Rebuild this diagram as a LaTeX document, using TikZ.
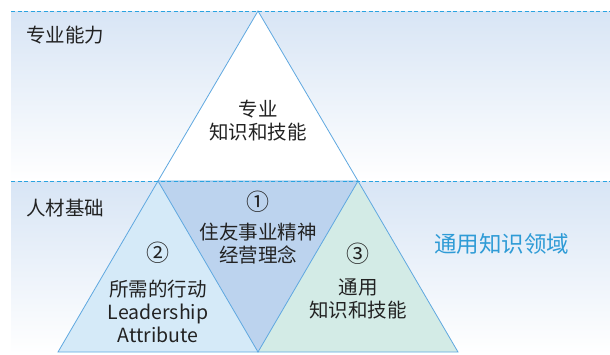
\documentclass[tikz,border=0pt]{standalone}
\usepackage{fontspec}
\setmainfont{Noto Sans CJK SC}
\definecolor{bandtop}{HTML}{D8E5F5}
\definecolor{dashblue}{HTML}{2AA3E0}
\definecolor{edgeblue}{HTML}{5FA8E0}
\definecolor{leftfill}{HTML}{D5EAF8}
\definecolor{midfill}{HTML}{BCD3EE}
\definecolor{rightfill}{HTML}{D3EBE6}
\definecolor{txt}{HTML}{222222}
\definecolor{bluetxt}{HTML}{2E9BD6}
\tikzset{
  sep/.style={dashblue, dashed, dash pattern=on 4pt off 2.5pt, line width=0.9pt},
  tri/.style={draw=edgeblue, line width=0.8pt},
  lbl/.style={inner sep=0pt, text=txt, font=\fontsize{19.5}{23}\selectfont, align=center},
  num/.style={inner sep=0pt, text=txt, font=\fontsize{23}{23}\selectfont}
}
\begin{document}
\begin{tikzpicture}[x=1pt,y=1pt]
\useasboundingbox (0,0) rectangle (610,-354);
% background bands
\shade[top color=bandtop, bottom color=white] (11,-11) rectangle (610,-181);
\shade[top color=bandtop, bottom color=white] (11,-181) rectangle (610,-354);
% triangles
\coordinate (A) at (258,-11);
\coordinate (B) at (158,-181);
\coordinate (C) at (358,-181);
\coordinate (D) at (58,-352);
\coordinate (E) at (258,-352);
\coordinate (F) at (458,-352);
\fill[white] (A) -- (B) -- (C) -- cycle;
\fill[leftfill] (B) -- (D) -- (E) -- cycle;
\fill[rightfill] (C) -- (E) -- (F) -- cycle;
\fill[midfill] (B) -- (C) -- (E) -- cycle;
\draw[tri] (A) -- (B) -- (C) -- cycle;
\draw[tri] (B) -- (D) -- (E) -- cycle;
\draw[tri] (C) -- (E) -- (F) -- cycle;
% separators
\draw[sep] (11,-11) -- (610,-11);
\draw[sep] (11,-181) -- (610,-181);
% labels
\node[lbl, anchor=west] (pro) at (26,-35) {专业能力};
\node[lbl, anchor=west] (base) at (26,-208) {人材基础};
\node[lbl, anchor=west, text=bluetxt, font=\fontsize{22.5}{23}\selectfont] (general) at (434,-244) {通用知识领域};
\node[lbl] (top) at (258,-121) {专业\\知识和技能};
\node[num] (n1) at (258,-202) {①};
\node[lbl] (mid) at (258,-243.5) {住友事业精神\\经营理念};
\node[num] (n2) at (158,-253) {②};
\node[lbl] (left) at (158,-311) {所需的行动\\Leadership\\Attribute};
\node[num] (n3) at (358,-254) {③};
\node[lbl] (right) at (358,-298.5) {通用\\知识和技能};
\end{tikzpicture}
\end{document}
